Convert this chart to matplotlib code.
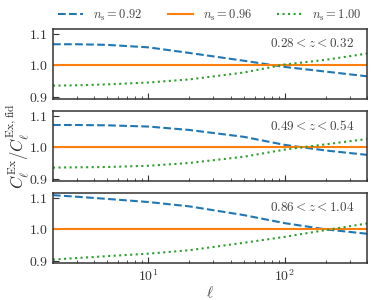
import numpy as np
import matplotlib
matplotlib.use("Agg")
import matplotlib.pyplot as plt

plt.rcParams["font.family"] = "serif"
plt.rcParams["font.serif"] = ["cmr10", "DejaVu Serif"]
plt.rcParams["mathtext.fontset"] = "cm"
plt.rcParams["axes.formatter.use_mathtext"] = True
plt.rcParams["axes.unicode_minus"] = False

# multipoles and ratios
ell = [2, 3, 5, 10, 20, 50, 100, 200, 400]
z_bins = ["$0.28 < z < 0.32$", "$0.49 < z < 0.54$", "$0.86 < z < 1.04$"]
labels = [r"$n_{\rm s} = 0.92$", r"$n_{\rm s} = 0.96$", r"$n_{\rm s} = 1.00$"]

ratio_092 = [
    [1.068, 1.068, 1.066, 1.058, 1.040, 1.015, 0.995, 0.980, 0.965],
    [1.072, 1.072, 1.071, 1.067, 1.056, 1.034, 1.008, 0.990, 0.976],
    [1.110, 1.105, 1.098, 1.088, 1.074, 1.046, 1.020, 1.000, 0.986],
]
ratio_096 = [
    [1.0] * 9,
    [1.0] * 9,
    [1.0] * 9,
]
ratio_100 = [
    [0.935, 0.936, 0.939, 0.945, 0.955, 0.977, 1.003, 1.018, 1.038],
    [0.935, 0.936, 0.937, 0.941, 0.950, 0.970, 0.993, 1.010, 1.027],
    [0.903, 0.908, 0.914, 0.922, 0.933, 0.957, 0.976, 0.998, 1.019],
]

fig = plt.figure(figsize=(3.74, 3.0), dpi=100)
left, width = 53 / 374, 314 / 374
h, gap, top = 70 / 300, 12 / 300, 1 - 29 / 300
axes = []
for i in range(3):
    ax = fig.add_axes([left, top - (i + 1) * h - i * gap, width, h])
    axes.append(ax)

for i, ax in enumerate(axes):
    l1, = ax.plot(ell, ratio_092[i], color="#1f77b4", ls="--", lw=1.5)
    l2, = ax.plot(ell, ratio_096[i], color="#ff7f0e", ls="-", lw=1.5)
    l3, = ax.plot(ell, ratio_100[i], color="#2ca02c", ls=(0, (1, 1.65)), lw=1.5)
    ax.set_xscale("log")
    ax.set_xlim(2, 400)
    ax.set_ylim(0.892, 1.117)
    ax.set_yticks([0.9, 1.0, 1.1])
    ax.tick_params(which="both", direction="in", labelsize=10, colors="#333333",
                   labelcolor="#333333")
    ax.tick_params(which="major", length=4)
    ax.tick_params(which="minor", length=2)
    for s in ax.spines.values():
        s.set_color("#333333")
        s.set_linewidth(1.1)
    ax.text(0.96, 0.88, z_bins[i], transform=ax.transAxes, ha="right", va="top",
            fontsize=9.5, color="#444444")
    if i < 2:
        ax.tick_params(labelbottom=False)

axes[-1].set_xlabel(r"$\ell$", fontsize=11, color="#444444", labelpad=1)
fig.text(0.045, (top - 1.5 * h - gap), r"$C_\ell^{\rm Ex}/C_\ell^{\rm Ex,fid}$",
         rotation=90, ha="center", va="center", fontsize=12, color="#333333")

fig.legend([l1, l2, l3], labels, loc="center", ncol=3, frameon=False,
           bbox_to_anchor=(left + width / 2, 1 - 15 / 300), fontsize=9,
           handlelength=2.0, columnspacing=2.0, handletextpad=0.8,
           labelcolor="#444444")

fig.savefig("out.png", dpi=100)
